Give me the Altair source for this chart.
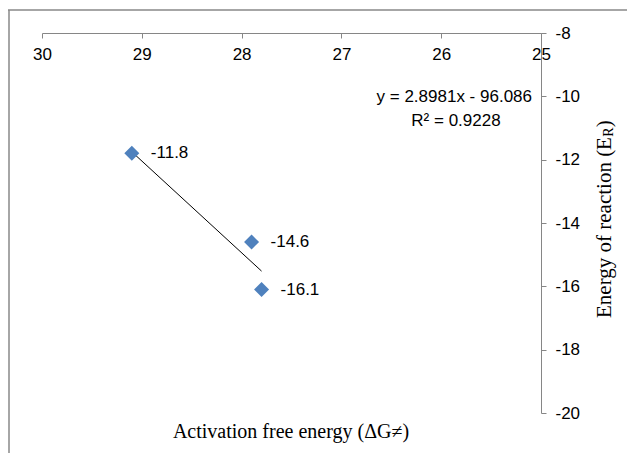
import altair as alt
import pandas as pd

# ---- data ----
x_vals = [29.1, 27.9, 27.8]
y_vals = [-11.8, -14.6, -16.1]
point_labels = ["-11.8", "-14.6", "-16.1"]
x_ticks = [25, 26, 27, 28, 29, 30]
y_ticks = [-20, -18, -16, -14, -12, -10, -8]
eq_text = ["y = 2.8981x - 96.086"]
r2_text = ["R² = 0.9228"]
x_title = ["Activation free energy (ΔG≠)"]
y_title_main = ["Energy of reaction (E"]
y_title_sub = ["R"]
y_title_end = [")"]

df = pd.DataFrame({"x": x_vals, "y": y_vals, "label": point_labels})
one = pd.DataFrame({"k": [0]})

W, H = 499, 380
AX = "#868686"
BLUE = "#4F81BD"
SANS = "Liberation Sans"
SERIF = "Liberation Serif"
FS = 17
HYPHEN = "datum.value < 0 ? '-' + abs(datum.value) : '' + datum.value"

xs = alt.Scale(domain=[25, 30], reverse=True, nice=False, zero=False)
ys = alt.Scale(domain=[-20, -8], nice=False, zero=False)

x_enc = alt.X(
    "x:Q", scale=xs,
    axis=alt.Axis(orient="bottom", offset=-H, values=x_ticks, title=None, grid=False,
                  domainColor=AX, tickColor=AX, tickSize=5, labelPadding=8,
                  labelFont=SANS, labelFontSize=FS, labelColor="#000",
                  labelFlush=False, labelOverlap=False, labelExpr=HYPHEN))
y_enc = alt.Y(
    "y:Q", scale=ys,
    axis=alt.Axis(orient="right", values=y_ticks, title=None, grid=False,
                  domainColor=AX, tickColor=AX, tickSize=5, labelPadding=9,
                  labelFont=SANS, labelFontSize=FS, labelColor="#000",
                  labelFlush=False, labelOverlap=False, labelExpr=HYPHEN))

base = alt.Chart(df)

trend = base.transform_regression("x", "y").mark_line(color="#000", strokeWidth=1).encode(
    x=alt.X("x:Q", scale=xs), y=alt.Y("y:Q", scale=ys))

points = base.mark_point(shape="diamond", filled=True, size=225, color=BLUE, opacity=1).encode(
    x=x_enc, y=y_enc)

labels = base.mark_text(align="left", baseline="middle", dx=19, font=SANS, fontSize=FS,
                        color="#000").encode(
    x=alt.X("x:Q", scale=xs), y=alt.Y("y:Q", scale=ys), text="label:N")

eq = alt.Chart(pd.DataFrame({"t": eq_text})).mark_text(
    align="right", baseline="middle", font=SANS, fontSize=FS, color="#000").encode(
    x=alt.value(490), y=alt.value(64), text="t:N")

r2 = alt.Chart(pd.DataFrame({"t": r2_text})).mark_text(
    align="center", baseline="middle", font=SANS, fontSize=FS, color="#000").encode(
    x=alt.value(414), y=alt.value(88), text="t:N")

xt = alt.Chart(pd.DataFrame({"t": x_title})).mark_text(
    align="center", baseline="middle", font=SERIF, fontSize=20, color="#000").encode(
    x=alt.value(249), y=alt.value(399), text="t:N")

YT_FS = 21
main_w = 8.636 * YT_FS
yt1 = alt.Chart(pd.DataFrame({"t": y_title_main})).mark_text(
    align="left", baseline="middle", angle=270, font=SERIF, fontSize=YT_FS, color="#000").encode(
    x=alt.value(563), y=alt.value(285), text="t:N")
yt2 = alt.Chart(pd.DataFrame({"t": y_title_sub})).mark_text(
    align="left", baseline="middle", angle=270, font=SERIF, fontSize=14, color="#000").encode(
    x=alt.value(567), y=alt.value(285 - main_w), text="t:N")
yt3 = alt.Chart(pd.DataFrame({"t": y_title_end})).mark_text(
    align="left", baseline="middle", angle=270, font=SERIF, fontSize=YT_FS, color="#000").encode(
    x=alt.value(563), y=alt.value(285 - main_w - 9.5), text="t:N")

border_top = alt.Chart(one).mark_rule(color="#888888", strokeWidth=1.5).encode(
    x=alt.value(-34), x2=alt.value(600), y=alt.value(-23))
border_left = alt.Chart(one).mark_rule(color="#888888", strokeWidth=1.5).encode(
    x=alt.value(-33), y=alt.value(-23), y2=alt.value(430))

chart = alt.layer(
    border_top, border_left, trend, points, labels, eq, r2, xt, yt1, yt2, yt3
).properties(
    width=W, height=H,
    padding={"left": 34, "top": 25, "right": 86, "bottom": 40},
    autosize="none",
).configure_view(stroke=None)

chart.save("out.html", embed_options={"renderer": "svg", "actions": False})
